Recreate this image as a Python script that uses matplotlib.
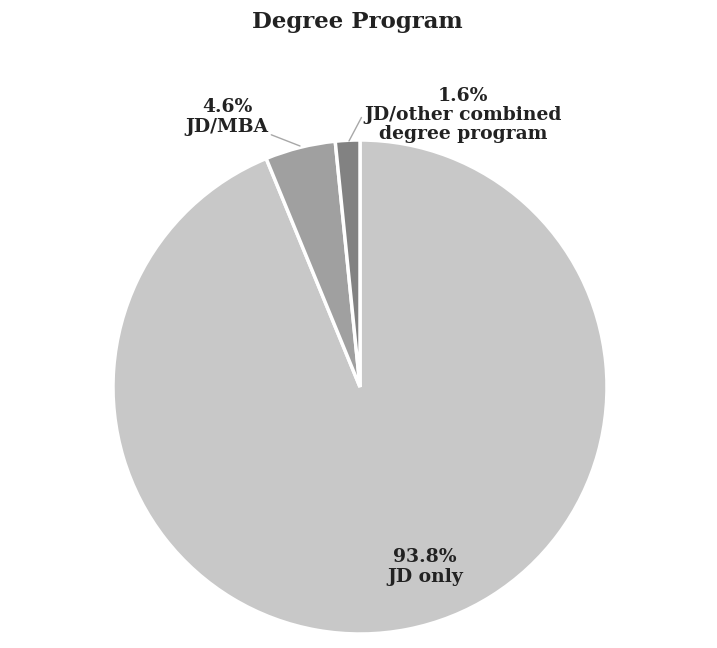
import matplotlib
matplotlib.use("Agg")
import matplotlib.pyplot as plt

categories = ["JD only", "JD/MBA", "JD/other combined\ndegree program"]
values = [93.8, 4.6, 1.6]
pct_labels = ["93.8%", "4.6%", "1.6%"]
colors = ["#c8c8c8", "#a0a0a0", "#828282"]

W, H = 717, 648
fig = plt.figure(figsize=(W / 100, H / 100), dpi=100)
cx, cy, r = 360, 387, 247
ax = fig.add_axes([(cx - r) / W, 1 - (cy + r) / H, 2 * r / W, 2 * r / H])
ax.pie(values, colors=colors, startangle=90, counterclock=False, radius=1,
       wedgeprops=dict(edgecolor="white", linewidth=2.5))
ax.set_xlim(-1, 1)
ax.set_ylim(-1, 1)
ax.set_aspect("equal")
ax.axis("off")

def d(px, py):
    return ((px - cx) / r, (cy - py) / r)

txt = dict(fontfamily="DejaVu Serif", fontweight="bold", fontsize=13.5,
           color="#222222", ha="center", va="center", linespacing=1.08)

ax.annotate(pct_labels[0] + "\n" + categories[0], xy=d(425, 567), **txt)
ax.annotate(pct_labels[1] + "\n" + categories[1], xy=d(300, 146), xytext=d(227, 117),
            arrowprops=dict(arrowstyle="-", color="#a8a8a8", lw=1,
                            shrinkA=0, shrinkB=0, relpos=(1.0, 0.05)),
            **txt)
ax.annotate(pct_labels[2] + "\n" + categories[2], xy=d(349, 141), xytext=d(463, 115),
            arrowprops=dict(arrowstyle="-", color="#a8a8a8", lw=1,
                            shrinkA=0, shrinkB=0, relpos=(0.0, 0.55)),
            **txt)

fig.text(357 / W, 1 - 22 / H, "Degree Program", fontfamily="DejaVu Serif",
         fontweight="bold", fontsize=16.5, color="#222222", ha="center", va="center")

fig.savefig("out.png", dpi=100, facecolor="white")
